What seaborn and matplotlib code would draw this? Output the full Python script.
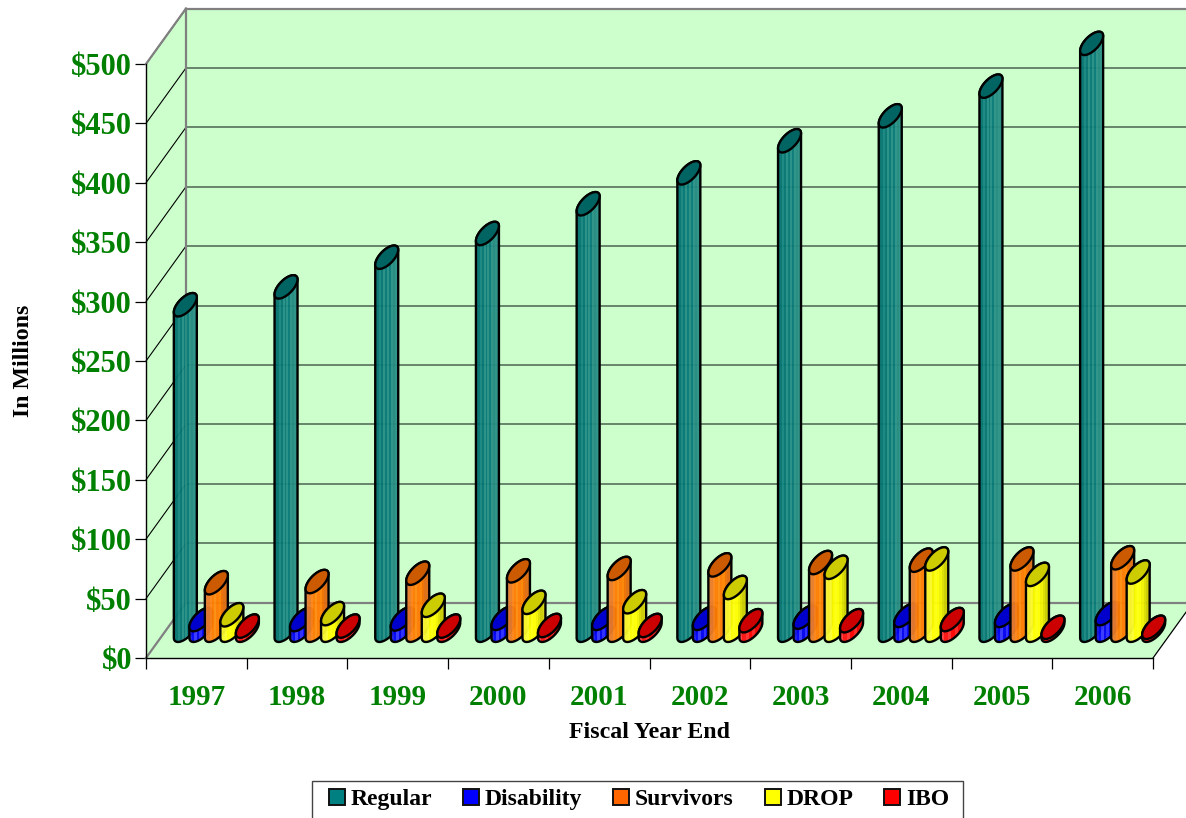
import numpy as np
import pandas as pd
import matplotlib
matplotlib.use("Agg")
import matplotlib.pyplot as plt
from matplotlib.patches import Polygon, Patch, Rectangle
import seaborn as sns

# Annual benefit payments by type, in millions of dollars
years = ["1997", "1998", "1999", "2000", "2001", "2002", "2003", "2004", "2005", "2006"]
regular = [274, 289, 314, 334, 359, 385, 412, 433, 458, 494]
disability = [9, 9, 9.5, 10, 10, 10, 11, 12.5, 12.5, 14]
survivors = [40, 41, 48, 50, 52, 55, 57, 59, 60, 61]
drop = [13, 14, 21, 23.5, 24, 36, 53, 60, 47, 49]
ibo = [3.5, 3.5, 3.5, 4, 4, 8, 8, 9, 2.5, 2.5]
series_names = ["Regular", "Disability", "Survivors", "DROP", "IBO"]
y_ticks = list(range(0, 501, 50))

legend_colors = ["#008080", "#0000ff", "#ff6600", "#ffff00", "#ff0000"]
cap_colors = ["#006462", "#0000cc", "#cc5a00", "#cccc00", "#cc0000"]
stripe_colors = [
    ["#066f6d", "#047472", "#168580", "#047472", "#268d84", "#067876",
     "#268d84", "#077876", "#2b9087", "#23897f", "#2b9087", "#278a82"],
    ["#1a1ae0", "#0000ff", "#3535ff", "#0000f0", "#2a2aff", "#0000ff",
     "#3030ff", "#0000e0", "#1c1cd8"],
    ["#e0803c", "#ea7c28", "#ff8418", "#ff7c00", "#ff8c10", "#ff7a00",
     "#ff8400", "#f07000", "#e06c10", "#d86c18"],
    ["#f2f24a", "#f8f830", "#ffff30", "#ffff00", "#ffff10", "#ffff00",
     "#f2f200", "#dede00", "#cccc00", "#d4d410"],
    ["#ff4040", "#ff1010", "#ff3030", "#ff0000", "#ff2020", "#e80000", "#d00000"],
]
WALL = "#ccffcc"
GREEN = "#008000"
SERIF = "Liberation Serif"

sns.set_theme(style="white")
plt.rcParams["font.family"] = [SERIF, "DejaVu Sans"]

W, H = 1186, 818
fig = plt.figure(figsize=(W / 100, H / 100), dpi=100, facecolor="white")
ax = fig.add_axes([146 / W, 1 - 658 / H, 1007 / W, 594 / H])
ax.patch.set_alpha(0)

df = pd.DataFrame({"year": years, "Regular": regular, "Disability": disability,
                   "Survivors": survivors, "DROP": drop, "IBO": ibo})
long_df = df.melt(id_vars="year", var_name="series", value_name="amount")
sns.barplot(data=long_df, x="year", y="amount", hue="series", hue_order=series_names,
            width=0.77, legend=False, ax=ax)

x0, x1 = -0.5, 9.5
ax.set_xlim(x0, x1)
ax.set_ylim(0, 500)
ax.set_autoscale_on(False)

# Conversion from screen pixels to data units for the oblique projection
PX = (x1 - x0) / 1007
PY = 500 / 594
depth_x, depth_y = 40 * PX, 55.5 * PY
R_X, R_TILT, R_MINOR = 11.5 * PX, 7.5 * PY, 9.0 * PY


def flat(pts, **kw):
    ax.add_patch(Polygon(pts, closed=True, clip_on=False, **kw))


# Back wall, side wall and floor
x_far = x1 + depth_x
flat([(x0 + depth_x, depth_y), (x_far, depth_y), (x_far, 500 + depth_y), (x0 + depth_x, 500 + depth_y)],
     facecolor=WALL, edgecolor="none", zorder=0)
flat([(x0, 0), (x0 + depth_x, depth_y), (x0 + depth_x, 500 + depth_y), (x0, 500)],
     facecolor=WALL, edgecolor="none", zorder=0)
flat([(x0, 0), (x1, 0), (x_far, depth_y), (x0 + depth_x, depth_y)],
     facecolor=WALL, edgecolor="none", zorder=0)

for tick in y_ticks[1:]:
    ax.plot([x0 + depth_x, x_far], [tick + depth_y] * 2, color="#55705a", lw=1.2, zorder=1, clip_on=False)
    ax.plot([x0, x0 + depth_x], [tick, tick + depth_y], color="black", lw=0.8, zorder=1, clip_on=False)
edge = dict(color="#808080", lw=1.6, zorder=1.5, clip_on=False, solid_capstyle="projecting")
ax.plot([x0 + depth_x, x_far], [depth_y, depth_y], **edge)
ax.plot([x0 + depth_x, x_far], [500 + depth_y] * 2, **edge)
ax.plot([x0 + depth_x] * 2, [depth_y, 500 + depth_y], **edge)
ax.plot([x0, x0 + depth_x], [0, depth_y], **edge)
ax.plot([x0, x0 + depth_x], [500, 500 + depth_y], **edge)
ax.plot([x1, x_far], [0, depth_y], color="black", lw=0.9, zorder=1.5, clip_on=False)


def ellipse_arc(xc, yc, t0, t1, n=40):
    t = np.linspace(t0, t1, n)
    return np.column_stack([xc + R_X * np.cos(t), yc + R_TILT * np.cos(t) + R_MINOR * np.sin(t)])


def cylinder(xc, value, idx):
    """Draw one tilted-cap cylinder standing at mid depth of the floor."""
    z = 3 + idx
    base = depth_y / 2
    top = base + value
    outline = np.vstack([ellipse_arc(xc, base, np.pi, 2 * np.pi), ellipse_arc(xc, top, 0, np.pi)])
    body = Polygon(outline, closed=True, facecolor="none", edgecolor="black", lw=1.7,
                   joinstyle="round", clip_on=False, zorder=z + 0.2)
    ax.add_patch(body)
    rgb = np.array([matplotlib.colors.to_rgb(c) for c in stripe_colors[idx]])[None, :, :]
    im = ax.imshow(rgb, extent=(xc - R_X, xc + R_X, base - 2 * R_TILT - R_MINOR, top + 2 * R_TILT + R_MINOR),
                   aspect="auto", interpolation="nearest", alpha=0.96, zorder=z)
    im.set_clip_box(fig.bbox)
    im.set_clip_path(body)
    cap = Polygon(ellipse_arc(xc, top, 0, 2 * np.pi, 70), closed=True, facecolor=cap_colors[idx],
                  edgecolor="black", lw=1.7, clip_on=False, zorder=z + 0.3)
    ax.add_patch(cap)


# Replace each bar from the categorical plot with a cylinder at the same position
for idx, container in enumerate(ax.containers):
    for bar in container:
        cylinder(bar.get_x() + bar.get_width() / 2 + depth_x / 2, bar.get_height(), idx)
        bar.set_visible(False)

# Axes, ticks and labels
for side in ("top", "right"):
    ax.spines[side].set_visible(False)
for side in ("left", "bottom"):
    ax.spines[side].set_color("black")
    ax.spines[side].set_linewidth(1.0)
    ax.spines[side].set_zorder(2)

ax.set_xticks(range(len(years)))
ax.set_xticklabels(years)
ax.set_xticks(np.arange(x0, x1 + 0.5), minor=True)
ax.tick_params(axis="x", which="major", length=0, pad=19, labelsize=21, labelcolor=GREEN)
ax.tick_params(axis="x", which="minor", length=8, width=0.9, color="black", bottom=True)
ax.set_yticks(y_ticks)
ax.set_yticklabels([f"${t}" for t in y_ticks])
ax.tick_params(axis="y", length=8, width=0.9, color="black", left=True, pad=2, labelsize=22, labelcolor=GREEN)
for label in ax.get_xticklabels() + ax.get_yticklabels():
    label.set_fontweight("bold")
    label.set_family(SERIF)

ax.set_xlabel("Fiscal Year End", fontsize=17.2, fontweight="bold", family=SERIF, color="black")
ax.set_ylabel("In Millions", fontsize=17.2, fontweight="bold", family=SERIF, color="black")
ax.xaxis.set_label_coords(0.5, (658 - 722) / 594)
ax.yaxis.set_label_coords((34 - 146) / 1007, 0.5)

# Legend box runs off the bottom edge of the figure
fig.add_artist(Rectangle((312 / W, 1 - 830 / H), 651 / W, 49 / H, transform=fig.transFigure,
                         facecolor="white", edgecolor="#444444", lw=1.0))
handles = [Patch(facecolor=c, edgecolor="#111111", lw=1.4, label=n) for c, n in zip(legend_colors, series_names)]
leg = fig.legend(handles=handles, ncol=5, loc="upper left", bbox_to_anchor=(329 / W, 1 - 789 / H),
                 bbox_transform=fig.transFigure, frameon=False, borderaxespad=0, borderpad=0,
                 handlelength=0.67, handleheight=0.67, handletextpad=0.25, columnspacing=1.31,
                 labelcolor="black", prop={"family": SERIF, "weight": "bold", "size": 17})
leg.set_zorder(5)

fig.savefig("out.png", dpi=100)
